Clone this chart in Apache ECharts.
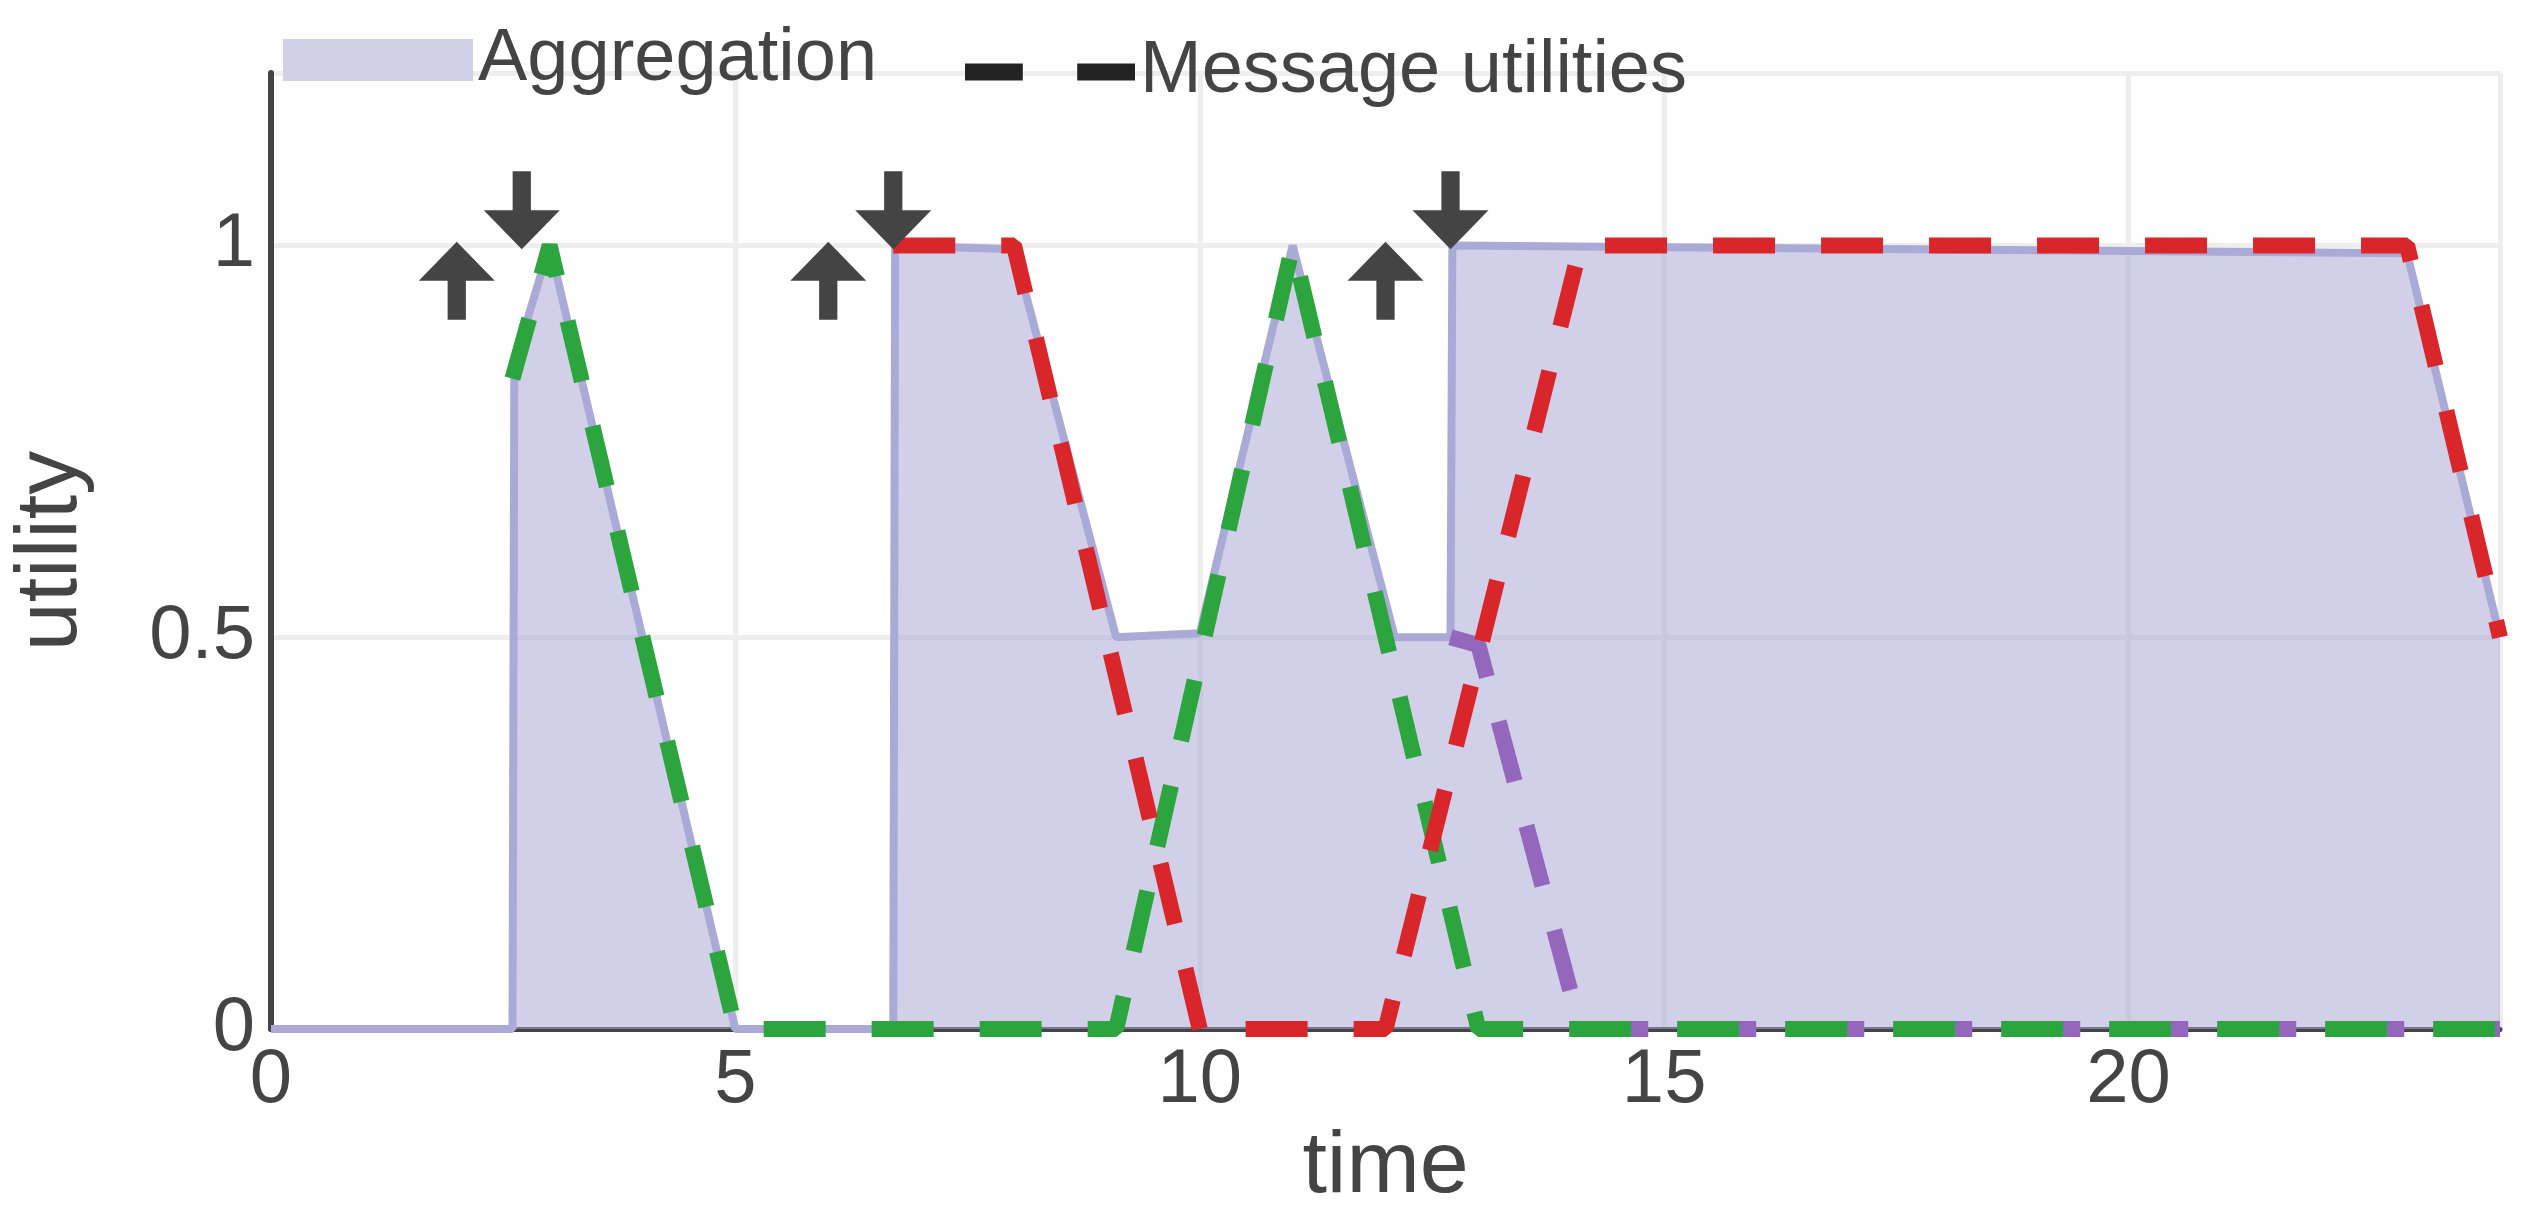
<!DOCTYPE html>
<html>
<head>
<meta charset="utf-8">
<script src="https://cdn.jsdelivr.net/npm/echarts@6/dist/echarts.min.js"></script>
<style>html,body{margin:0;padding:0;background:#fff}#main{width:2535px;height:1217px}</style>
</head>
<body>
<div id="main"></div>
<script>
// aggregated utility (filled area)
var aggX = [0, 2.6, 2.62, 3.0, 5.0, 6.7, 6.72, 8.0, 9.1, 10.0, 11.0, 12.1, 12.7, 12.72, 23.0, 24];
var aggY = [0, 0, 0.85, 1.0, 0, 0, 1.0, 0.995, 0.5, 0.505, 1.0, 0.5, 0.5, 1.0, 0.99, 0.5];
// message utilities
var greenX = [2.6, 3.0, 5.0, 9.1, 11.0, 13.0, 24];
var greenY = [0.83, 1.0, 0, 0, 1.0, 0, 0];
var redX = [6.7, 8.0, 10.0, 12.0, 14.1, 23.0, 24];
var redY = [1.0, 1.0, 0, 0, 1.0, 1.0, 0.5];
var purpleX = [12.7, 13.0, 14.1, 24];
var purpleY = [0.5, 0.49, 0, 0];
// arrows: arrivals (up) and departures (down)
var upX = [2.0, 6.0, 12.0];
var downX = [2.7, 6.7, 12.7];

function pairs(xs, ys) { return xs.map(function (x, i) { return [x, ys[i]]; }); }

var upPath = 'path://M50,0 L100,50 L62,50 L62,100 L38,100 L38,50 L0,50 Z';
var downPath = 'path://M38,0 L62,0 L62,50 L100,50 L50,100 L0,50 L38,50 Z';
var aggIcon = 'path://M0,0 H100 V4 H0 Z M0,4 H100 V22 H0 Z';
var dashIcon = 'path://M0,0 H34 V10 H0 Z M66,0 H100 V10 H66 Z';
var dashStyle = function (c) { return { color: c, width: 16, type: [62, 46] }; };
var legendText = { fontFamily: 'Liberation Sans', fontSize: 74, color: '#444' };

var chart = echarts.init(document.getElementById('main'));
chart.setOption({
  animation: false,
  grid: { left: 247, right: 35, top: 73, bottom: 85, containLabel: false },
  legend: [
    { left: 278, top: 18, itemWidth: 190, itemHeight: 44, itemGap: 20, textStyle: legendText,
      data: [{ name: 'Aggregation', icon: aggIcon, itemStyle: { color: '#d2d0e8' } }] },
    { left: 960, top: 30, itemWidth: 170, itemHeight: 17, itemGap: 20, textStyle: legendText,
      data: [{ name: 'Message utilities', icon: dashIcon, itemStyle: { color: '#222' } }] }
  ],
  xAxis: {
    type: 'value', min: 0, max: 24, interval: 5,
    name: 'time', nameLocation: 'middle', nameGap: 40,
    nameTextStyle: { fontFamily: 'Liberation Sans', fontSize: 88, color: '#444' },
    axisLine: { lineStyle: { color: '#444', width: 5 } },
    axisTick: { show: false },
    axisLabel: { fontFamily: 'Liberation Sans', fontSize: 76, color: '#444', margin: 14, showMaxLabel: false },
    splitLine: { show: true, lineStyle: { color: '#eeeeee', width: 5 } }
  },
  yAxis: {
    type: 'value', min: 0, max: 1.22, interval: 0.5,
    name: 'utility', nameLocation: 'middle', nameGap: 175,
    nameTextStyle: { fontFamily: 'Liberation Sans', fontSize: 88, color: '#444' },
    axisLine: { show: true, lineStyle: { color: '#444', width: 6 } },
    axisTick: { show: false },
    axisLabel: { fontFamily: 'Liberation Sans', fontSize: 76, color: '#444', margin: 16, showMaxLabel: false },
    splitLine: { show: true, lineStyle: { color: '#eeeeee', width: 5 } }
  },
  series: [
    {
      name: 'Aggregation', type: 'line', symbol: 'none', z: 1,
      data: pairs(aggX, aggY),
      lineStyle: { color: '#aaaad6', width: 8 },
      itemStyle: { color: '#d2d0e8' },
      areaStyle: { color: 'rgba(168,164,210,0.52)', opacity: 1 }
    },
    { name: 'Message utilities', type: 'line', symbol: 'none', data: [],
      lineStyle: { color: '#222', width: 13 }, itemStyle: { color: '#222' } },
    { name: 'm1', type: 'line', symbol: 'none', z: 3, data: pairs(purpleX, purpleY), lineStyle: dashStyle('#9467bd') },
    { name: 'm2', type: 'line', symbol: 'none', z: 4, data: pairs(greenX, greenY), lineStyle: dashStyle('#2ca53f') },
    { name: 'm3', type: 'line', symbol: 'none', z: 5, data: pairs(redX, redY), lineStyle: dashStyle('#d9262b') },
    { name: 'up', type: 'scatter', symbol: upPath, symbolSize: [76, 78], z: 6,
      data: upX.map(function (x) { return [x, 0.955]; }), itemStyle: { color: '#444', opacity: 1 } },
    { name: 'down', type: 'scatter', symbol: downPath, symbolSize: [76, 78], z: 6,
      data: downX.map(function (x) { return [x, 1.045]; }), itemStyle: { color: '#444', opacity: 1 } }
  ]
});
</script>
</body>
</html>
